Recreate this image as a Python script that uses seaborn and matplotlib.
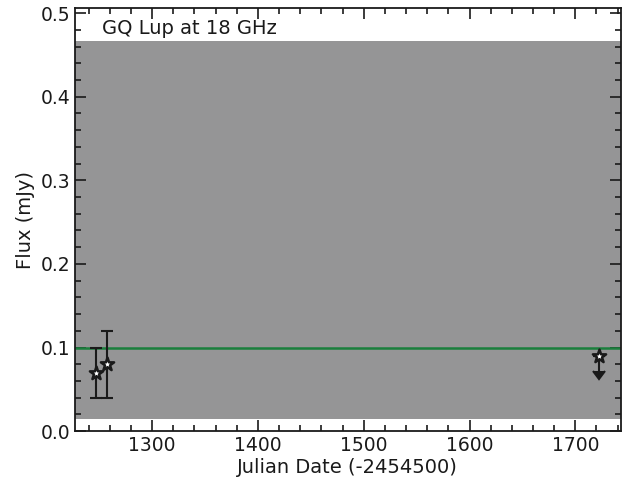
import numpy as np
import pandas as pd
import matplotlib
matplotlib.use("Agg")
import matplotlib.pyplot as plt
import seaborn as sns
from matplotlib.ticker import MultipleLocator

# data
dates = [1247, 1257, 1722]
flux = [0.07, 0.08, 0.09]
flux_err = [0.03, 0.04, 0.018]
upper_limit = [False, False, True]
mean_flux = 0.099
band_low = 0.014
band_high = 0.467
title = "GQ Lup at 18 GHz"

sns.set_theme(style="ticks")
plt.rcParams['font.family'] = ['DejaVu Sans']

fig = plt.figure(figsize=(6.4, 4.79), dpi=100)
ax = fig.add_axes([0.117, 0.100, 0.853, 0.883])

ax.axhspan(band_low, band_high, color="#959596", lw=0, zorder=0)
ax.axhline(mean_flux, color="#1a7f3c", lw=1.8, zorder=1)

df = pd.DataFrame({"date": dates, "flux": flux, "err": flux_err, "ul": upper_limit})
det = df[~df.ul]
ul = df[df.ul]
ax.errorbar(det.date, det.flux, yerr=det.err, fmt="none", ecolor="#1a1a1a", color="#1a1a1a",
            capsize=4, elinewidth=1.5, capthick=1.5, zorder=2)
ax.errorbar(ul.date, ul.flux, yerr=ul.err, uplims=True, fmt="none", ecolor="#1a1a1a",
            color="#1a1a1a", capsize=4, elinewidth=1.5, capthick=1.5, zorder=2)
sns.scatterplot(data=df, x="date", y="flux", marker="*", s=100, color="white",
                edgecolor="#1a1a1a", linewidth=1.8, ax=ax, zorder=3, legend=False)

ax.set_xlim(1227, 1743)
ax.set_ylim(0, 0.506)
ax.xaxis.set_major_locator(MultipleLocator(100))
ax.xaxis.set_minor_locator(MultipleLocator(20))
ax.yaxis.set_major_locator(MultipleLocator(0.1))
ax.yaxis.set_minor_locator(MultipleLocator(0.02))
ax.tick_params(which="both", direction="in", top=True, right=True, labelsize=13.5, width=1.2,
               colors="#1a1a1a")
ax.tick_params(which="major", length=8)
ax.tick_params(which="minor", length=4)
for s in ax.spines.values():
    s.set_linewidth(1.3)
    s.set_color("#1a1a1a")

ax.set_xlabel("Julian Date (-2454500)", fontsize=14, labelpad=2, color="#1a1a1a")
ax.set_ylabel("Flux (mJy)", fontsize=14, color="#1a1a1a")
ax.text(0.05, 0.975, title, transform=ax.transAxes, ha="left", va="top", fontsize=14,
        color="#1a1a1a")

fig.savefig("out.png", dpi=100)
